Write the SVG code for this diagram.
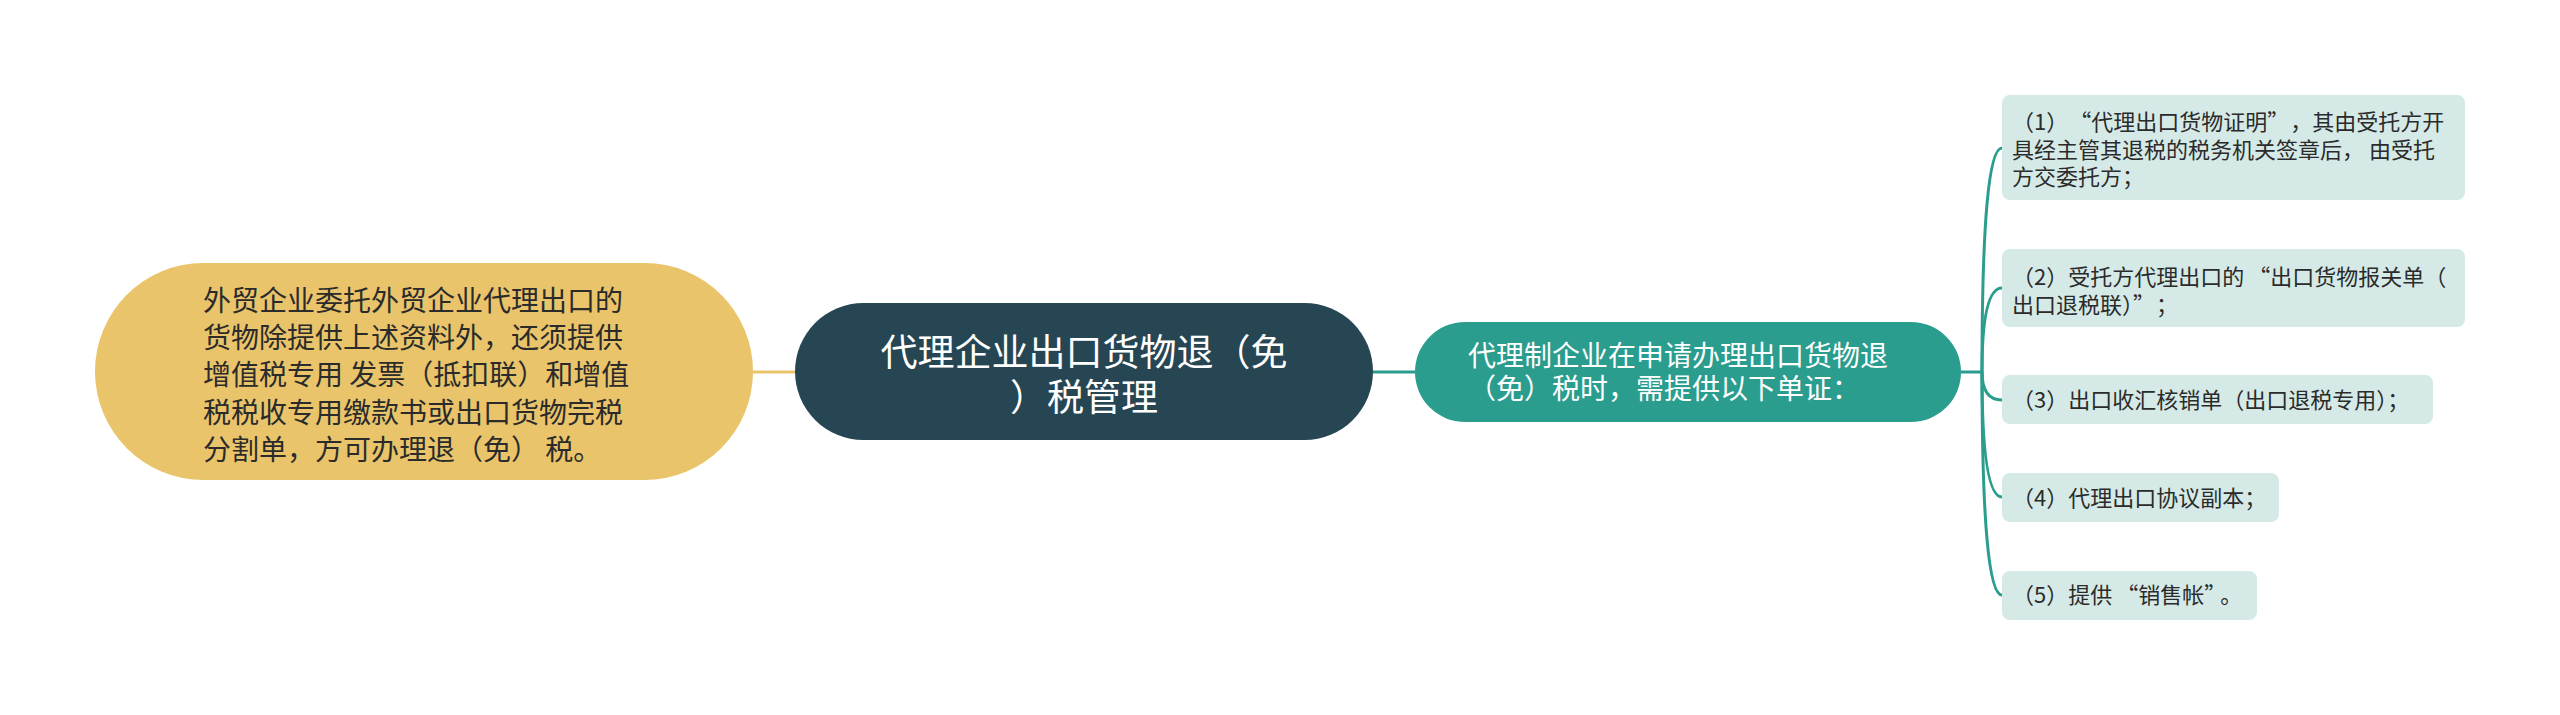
<svg xmlns="http://www.w3.org/2000/svg" width="2560" height="715" viewBox="0 0 2560 715">
<style>
text{font-family:"Noto Sans CJK SC","Noto Sans",sans-serif;}
.lt{font-size:28px;fill:#2b2b2b;}
.ct{font-size:37px;fill:#ffffff;text-anchor:middle;}
.nt{font-size:28px;fill:#ffffff;}
.leaf{fill:#D5EAE7;}
.lf{font-size:22px;fill:#2b2b2b;}
.ln{fill:none;stroke:#2A9D8F;stroke-width:3;}
</style>
<rect width="2560" height="715" fill="#ffffff"/>
<g id="connectors">
<line x1="753" y1="372" x2="795" y2="372" stroke="#E9C46A" stroke-width="3"/>
<line class="ln" x1="1373" y1="372" x2="1415" y2="372"/>
<line class="ln" x1="1961" y1="372" x2="1982" y2="372"/>
<path class="ln" d="M1982 372 Q1982 148 2002 148"/>
<path class="ln" d="M1982 372 Q1982 288 2002 288"/>
<path class="ln" d="M1982 372 Q1982 400 2002 400"/>
<path class="ln" d="M1982 372 Q1982 497 2002 497"/>
<path class="ln" d="M1982 372 Q1982 595 2002 595"/>
</g>
<g id="left">
<rect x="95" y="263" width="658" height="217" rx="108.5" fill="#E9C46A"/>
<text class="lt"><tspan x="203" y="311">外贸企业委托外贸企业代理出口的</tspan><tspan x="203" y="348">货物除提供上述资料外，还须提供</tspan><tspan x="203" y="385">增值税专用 发票（抵扣联）和增值</tspan><tspan x="203" y="423">税税收专用缴款书或出口货物完税</tspan><tspan x="203" y="460">分割单，方可办理退（免） 税。</tspan></text>
</g>
<g id="center">
<rect x="795" y="303" width="578" height="137" rx="68.5" fill="#264653"/>
<text class="ct"><tspan x="1084" y="366">代理企业出口货物退（免</tspan><tspan x="1084" y="411">）税管理</tspan></text>
</g>
<g id="agent">
<rect x="1415" y="322" width="546" height="100" rx="50" fill="#2A9D8F"/>
<text class="nt"><tspan x="1468" y="366">代理制企业在申请办理出口货物退</tspan><tspan x="1468" y="399">（免）税时，需提供以下单证：</tspan></text>
</g>
<g id="leaf1">
<rect class="leaf" x="2002" y="95" width="463" height="105" rx="8"/>
<text class="lf"><tspan x="2012" y="130">（1）<tspan dx="12">“</tspan>代理出口货物证明”<tspan dx="12">，</tspan>其由受托方开</tspan><tspan x="2012" y="158">具经主管其退税的税务机关签章后， 由受托</tspan><tspan x="2012" y="185">方交委托方；</tspan></text>
</g>
<g id="leaf2">
<rect class="leaf" x="2002" y="249" width="463" height="78" rx="8"/>
<text class="lf"><tspan x="2012" y="285">（2）受托方代理出口的<tspan dx="4">“</tspan>出口货物报关单（</tspan><tspan x="2012" y="313">出口退税联）”<tspan dx="12">；</tspan></tspan></text>
</g>
<g id="leaf3">
<rect class="leaf" x="2002" y="375" width="431" height="49" rx="8"/>
<text class="lf" x="2012" y="408">（3）出口收汇核销单（出口退税专用）；</text>
</g>
<g id="leaf4">
<rect class="leaf" x="2002" y="473" width="277" height="49" rx="8"/>
<text class="lf" x="2012" y="506">（4）代理出口协议副本；</text>
</g>
<g id="leaf5">
<rect class="leaf" x="2002" y="571" width="255" height="49" rx="8"/>
<text class="lf" x="2012" y="603">（5）提供<tspan dx="4">“</tspan>销售帐”<tspan dx="5">。</tspan></text>
</g>
</svg>
